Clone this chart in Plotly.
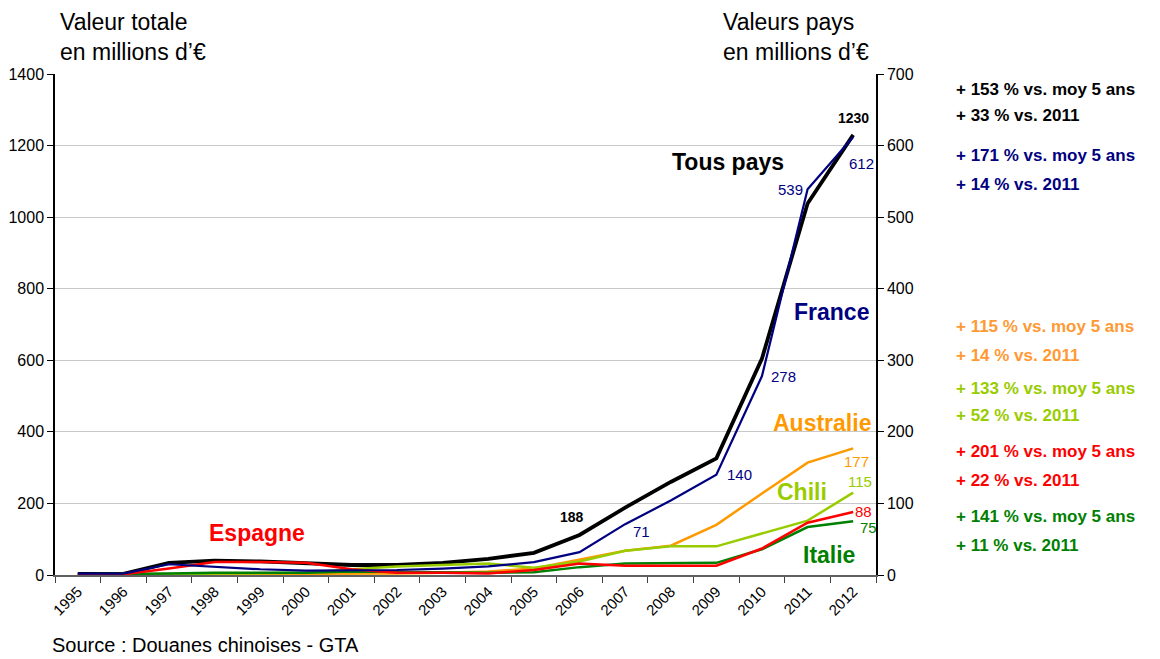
import plotly.graph_objects as go

years = [str(y) for y in range(1995, 2013)]
tous_pays = [3, 3, 34, 40, 38, 34, 28, 28, 34, 45, 62, 112, 188, 260, 326, 605, 1038, 1230]
france = [2, 2, 15, 11, 8, 6, 6, 7, 9, 12, 18, 32, 71, 104, 140, 278, 539, 612]
australie = [1, 1, 1, 2, 2, 2, 2, 2, 3, 5, 9, 22, 34, 41, 70, 114, 157, 177]
chili = [0, 0, 1, 2, 2, 3, 8, 12, 14, 16, 10, 19, 34, 40, 40, 58, 76, 115]
espagne = [1, 1, 9, 18, 18, 17, 8, 3, 3, 2, 7, 16, 13, 13, 13, 37, 73, 88]
italie = [1, 1, 2, 3, 3, 3, 5, 4, 4, 3, 4, 11, 16, 17, 17, 36, 67, 75]

C_BLACK = "#000000"
C_FR = "#000080"
C_AU = "#FF9900"
C_CL = "#99CC00"
C_ES = "#FF0000"
C_IT = "#008000"
C_AU_TXT = "#FF9933"

FONT = "Liberation Sans, Arial, sans-serif"

fig = go.Figure()
fig.add_trace(go.Scatter(x=years, y=tous_pays, mode="lines", line=dict(color=C_BLACK, width=3.8),
                         name="Tous pays", yaxis="y"))
for name, vals, col, w in [("Australie", australie, C_AU, 2.5), ("Chili", chili, C_CL, 2.5),
                           ("Italie", italie, C_IT, 2.5), ("Espagne", espagne, C_ES, 2.5),
                           ("France", france, C_FR, 2.2)]:
    fig.add_trace(go.Scatter(x=years, y=vals, mode="lines", line=dict(color=col, width=w),
                             name=name, yaxis="y2"))

# page body offset (browser default margin)
OFF = 8
L, R, T, B = 55, 876, 74, 575
W, H = 1160 - OFF, 659 - OFF


def px(x):
    return (x - L) / (R - L)


def py(y):
    return (B - y) / (B - T)


ann = []


def paper_text(text, x, y, size, color, bold=False, xanchor="center", yanchor="middle"):
    t = f"<b>{text}</b>" if bold else text
    ann.append(dict(text=t, x=px(x), y=py(y), xref="paper", yref="paper", showarrow=False,
                    font=dict(family=FONT, size=size, color=color), xanchor=xanchor, yanchor=yanchor,
                    align="left"))


def data_text(text, i, series, yref, dx, dy, size, color, bold=False):
    t = f"<b>{text}</b>" if bold else text
    ann.append(dict(text=t, x=i, y=series[i], xref="x", yref=yref, showarrow=False,
                    xshift=dx, yshift=dy, font=dict(family=FONT, size=size, color=color)))


# axis titles
paper_text("Valeur totale<br>en millions d’€", 58, 37, 23, "#000000", xanchor="left")
paper_text("Valeurs pays<br>en millions d’€", 721, 37, 23, "#000000", xanchor="left")
paper_text("Source : Douanes chinoises - GTA", 50, 645, 20, "#000000", xanchor="left")

# series labels
paper_text("Tous pays", 728, 162, 23, C_BLACK, bold=True)
paper_text("France", 831, 312, 23, C_FR, bold=True)
paper_text("Australie", 822, 423, 23, C_AU, bold=True)
paper_text("Chili", 802, 492, 23, C_CL, bold=True)
paper_text("Espagne", 257, 533, 23, C_ES, bold=True)
paper_text("Italie", 829, 555, 23, C_IT, bold=True)

# value labels
n = len(years) - 1
data_text("1230", n, tous_pays, "y", 0, 17, 14, C_BLACK, bold=True)
data_text("188", 12, tous_pays, "y", -53, -9, 14, C_BLACK, bold=True)
data_text("612", n, france, "y2", 8, -27, 15, C_FR)
data_text("539", 16, france, "y2", -17, 0, 15, C_FR)
data_text("278", 15, france, "y2", 22, 0, 15, C_FR)
data_text("140", 14, france, "y2", 23, 0, 15, C_FR)
data_text("71", 12, france, "y2", 16, -7, 15, C_FR)
data_text("177", n, australie, "y2", 3, -13, 15, C_AU)
data_text("115", n, chili, "y2", 7, 11, 15, C_CL)
data_text("88", n, espagne, "y2", 10, 1, 15, C_ES)
data_text("75", n, italie, "y2", 15, -6, 15, C_IT)

# right-side comments
notes = [
    ("+ 153 % vs. moy 5 ans", 90, C_BLACK), ("+ 33 % vs. 2011", 115, C_BLACK),
    ("+ 171 % vs. moy 5 ans", 155, C_FR), ("+ 14 % vs. 2011", 184, C_FR),
    ("+ 115 % vs. moy 5 ans", 326, C_AU_TXT), ("+ 14 % vs. 2011", 355, C_AU_TXT),
    ("+ 133 % vs. moy 5 ans", 388, C_CL), ("+ 52 % vs. 2011", 415, C_CL),
    ("+ 201 % vs. moy 5 ans", 451, C_ES), ("+ 22 % vs. 2011", 480, C_ES),
    ("+ 141 % vs. moy 5 ans", 516, C_IT), ("+ 11 % vs. 2011", 545, C_IT),
]
for txt, y, col in notes:
    paper_text(txt, 954, y, 17, col, bold=True, xanchor="left")

fig.update_layout(
    width=W, height=H,
    margin=dict(l=L - OFF, r=W - (R - OFF), t=T - OFF, b=H - (B - OFF), pad=0, autoexpand=False),
    paper_bgcolor="white", plot_bgcolor="white",
    showlegend=False,
    font=dict(family=FONT, size=16, color="#000000"),
    annotations=ann,
    xaxis=dict(type="category", range=[-0.5, len(years) - 0.5], tickson="boundaries",
               ticks="outside", ticklen=6, tickcolor="#404040", automargin=False,
               showline=True, linecolor="#606060", linewidth=2, tickangle=-45,
               tickfont=dict(family=FONT, size=15), showgrid=False, zeroline=False),
    yaxis=dict(range=[0, 1400], dtick=200, ticks="outside", ticklen=6, tickcolor="#000000",
               showline=True, linecolor="#000000", linewidth=1.5, gridcolor="#C8C8C8", gridwidth=1.2,
               zeroline=False, tickfont=dict(family=FONT, size=16), automargin=False),
    yaxis2=dict(range=[0, 700], dtick=100, ticks="outside", ticklen=6, tickcolor="#000000",
                showline=True, linecolor="#000000", linewidth=1.5, overlaying="y", side="right",
                showgrid=False, zeroline=False, tickfont=dict(family=FONT, size=16), automargin=False),
)

fig.write_html("out.html")
